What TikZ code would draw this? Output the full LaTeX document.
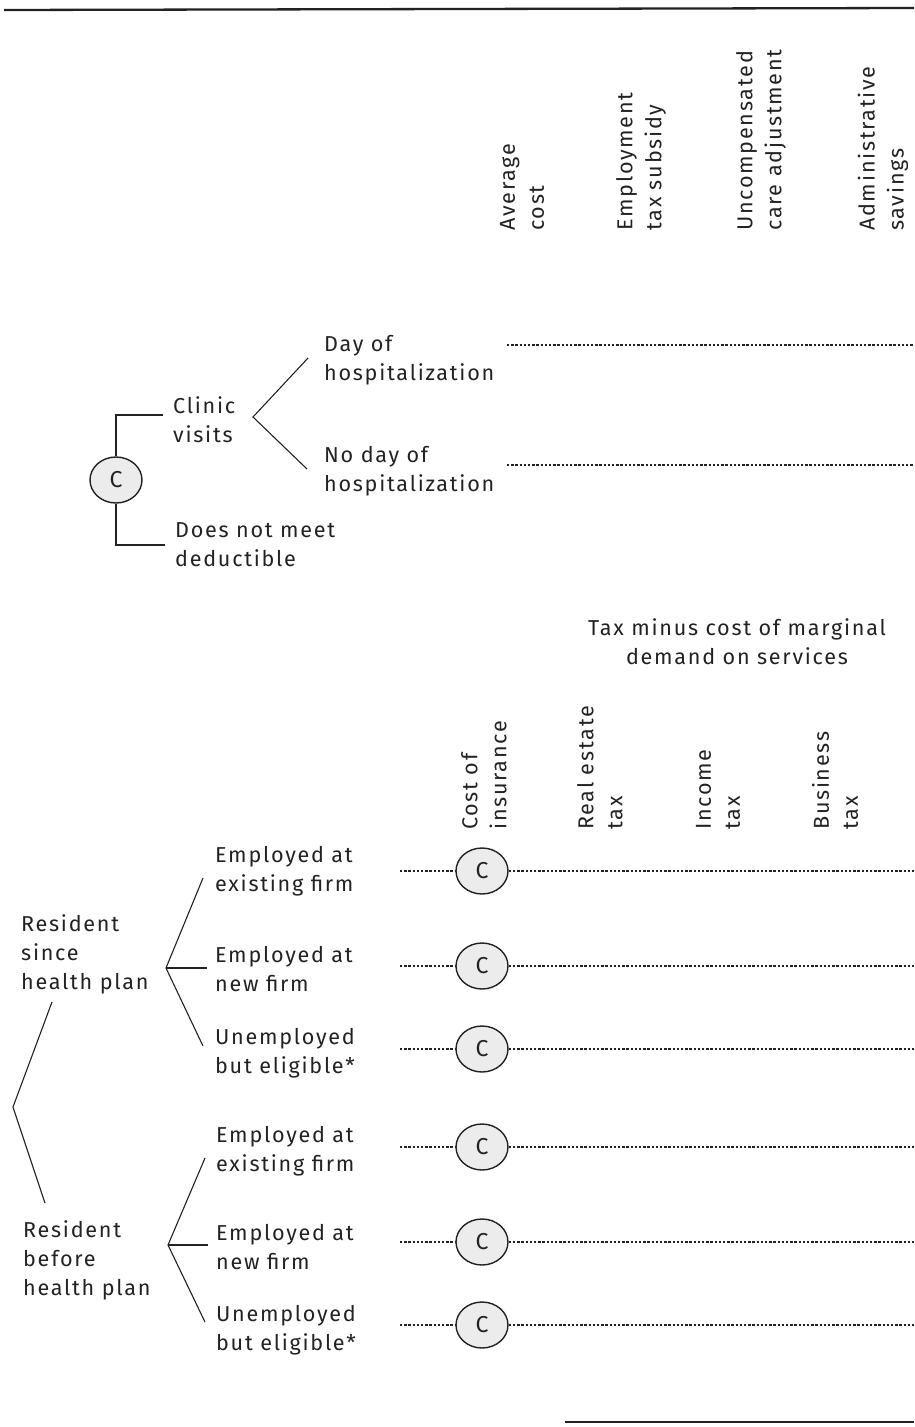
\documentclass[tikz,border=0pt]{standalone}
\usepackage{fontspec}
\setmainfont{Fira Sans}[LetterSpace=8]
\usetikzlibrary{shapes.geometric}
\definecolor{ink}{HTML}{222222}
\definecolor{chancefill}{HTML}{ECECEC}
\begin{document}
\begin{tikzpicture}[x=1pt,y=-1pt,
  lbl/.style={anchor=west, align=left, inner sep=0pt,
    font=\fontsize{21.6}{29}\selectfont, text=ink},
  colhead/.style={lbl, rotate=90},
  chance/.style={draw=ink, fill=chancefill, ellipse, minimum width=52pt,
    minimum height=46pt, inner sep=0pt, line width=1.4pt,
    font=\fontsize{23}{24}\selectfont, text=ink},
  branch/.style={draw=ink, line width=1.1pt},
  payoff/.style={draw=ink, line width=1.4pt, dash pattern=on 2.4pt off 1.8pt},
  rulebar/.style={draw=ink, line width=2.3pt}]
\useasboundingbox (0,0) rectangle (914,1427);

% frame rules
\coordinate (tl) at (4,10);
\coordinate (tr) at (914,8);
\coordinate (bl) at (565,1422);
\coordinate (br) at (914,1422);
\draw[rulebar] (tl) -- (tr);
\draw[rulebar] (bl) -- (br);

% ---------- upper tree ----------
\node[colhead] (hAvg) at (522,231) {Average\\cost};
\node[colhead] (hEmp) at (641,231) {Employment\\tax subsidy};
\node[colhead] (hUnc) at (761,231) {Uncompensated\\care adjustment};
\node[colhead] (hAdm) at (883,231) {Administrative\\savings};

\node[chance] (c0) at (116,480) {C};
\node[lbl] (clinic) at (173,420) {Clinic\\visits};
\node[lbl] (nodeduct) at (175,545) {Does not meet\\deductible};
\node[lbl] (dayhosp) at (324,360) {Day of\\hospitalization};
\node[lbl] (nodayhosp) at (324,471) {No day of\\hospitalization};

\coordinate (bt) at (116,415);
\coordinate (bte) at (163,415);
\coordinate (bb) at (116,545);
\coordinate (bbe) at (165,545);
\draw[branch] (c0.north) -- (bt) -- (bte);
\draw[branch] (c0.south) -- (bb) -- (bbe);

\coordinate (w0) at (253,417);
\coordinate (w0a) at (308,358);
\coordinate (w0b) at (307,469);
\draw[branch] (w0a) -- (w0) -- (w0b);

\coordinate (d1s) at (507,345);
\coordinate (d1e) at (914,345);
\coordinate (d2s) at (507,465);
\coordinate (d2e) at (914,465);
\draw[payoff] (d1s) -- (d1e);
\draw[payoff] (d2s) -- (d2e);

% ---------- lower tree ----------
\node[lbl, anchor=center, align=center] (taxhead) at (737,642)
  {Tax minus cost of marginal\\demand on services};
\node[colhead] (hIns) at (484,830) {Cost of\\insurance};
\node[colhead] (hReal) at (600,830) {Real estate\\tax};
\node[colhead] (hInc) at (718,830) {Income\\tax};
\node[colhead] (hBus) at (835,830) {Business\\tax};

\node[lbl] (since) at (21,954) {Resident\\since\\health plan};
\node[lbl] (before) at (23,1260) {Resident\\before\\health plan};

\coordinate (wv) at (13,1107);
\coordinate (wva) at (52,1002);
\coordinate (wvb) at (45,1203);
\draw[branch] (wva) -- (wv) -- (wvb);

\coordinate (wa) at (166,968);
\coordinate (wa1) at (203,878);
\coordinate (wa2) at (207,968);
\coordinate (wa3) at (203,1046);
\draw[branch] (wa1) -- (wa) -- (wa3);
\draw[branch] (wa) -- (wa2);

\coordinate (wb) at (168,1245);
\coordinate (wb1) at (205,1158);
\coordinate (wb2) at (208,1245);
\coordinate (wb3) at (205,1322);
\draw[branch] (wb1) -- (wb) -- (wb3);
\draw[branch] (wb) -- (wb2);

\node[lbl] (a1) at (215,871) {Employed at\\existing firm};
\node[lbl] (a2) at (215,969) {Employed at\\new firm};
\node[lbl] (a3) at (215,1053) {Unemployed\\but eligible*};
\node[lbl] (b1) at (216,1151) {Employed at\\existing firm};
\node[lbl] (b2) at (216,1247) {Employed at\\new firm};
\node[lbl] (b3) at (216,1330) {Unemployed\\but eligible*};

\foreach \i/\yy in {1/871,2/966,3/1049,4/1147,5/1242,6/1325}{
  \node[chance] (c\i) at (482,\yy) {C};
  \coordinate (s\i) at (400,\yy);
  \coordinate (e\i) at (914,\yy);
  \draw[payoff] (s\i) -- (c\i.west);
  \draw[payoff] (c\i.east) -- (e\i);
}
\end{tikzpicture}
\end{document}
